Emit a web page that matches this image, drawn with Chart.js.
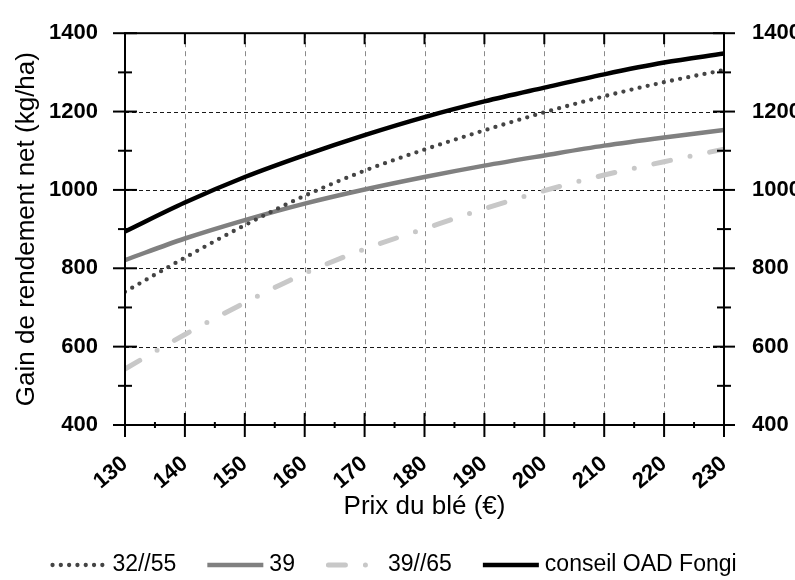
<!DOCTYPE html>
<html><head><meta charset="utf-8">
<script src="https://cdn.jsdelivr.net/npm/chart.js@4/dist/chart.umd.min.js"></script>
<style>html,body{margin:0;padding:0;background:#fff}</style>
</head><body>
<canvas id="c" width="795" height="580"></canvas>
<script>
const prices = [130, 140, 150, 160, 170, 180, 190, 200, 210, 220, 230];
const s3255 = [740, 827, 910, 985, 1049, 1103, 1152, 1198, 1239, 1275, 1306];
const s39   = [821, 876, 923, 965, 1001, 1033, 1062, 1088, 1113, 1134, 1153];
const s3965 = [543, 631, 712, 787, 849, 901, 952, 998, 1038, 1072, 1104];
const oad   = [894, 968, 1033, 1089, 1140, 1186, 1226, 1261, 1295, 1325, 1348];
const seriesNames = ['32//55', '39', '39//65', 'conseil OAD Fongi'];
const yMin = 400, yMax = 1400, yStep = 200;
const xMin = 130, xMax = 230, xStep = 10;

const FONT = "'Liberation Sans', Arial, Helvetica, sans-serif";
Chart.defaults.font.family = FONT;
Chart.defaults.color = '#000';

const styles = [
  {borderColor: '#444444', borderWidth: 4.3, borderDash: [0, 8.3], borderCapStyle: 'round'},
  {borderColor: '#808080', borderWidth: 4.5, borderDash: [], borderCapStyle: 'butt'},
  {borderColor: '#c8c8c8', borderWidth: 5, borderDash: [17, 20, 0, 20], borderCapStyle: 'round'},
  {borderColor: '#000000', borderWidth: 4.5, borderDash: [], borderCapStyle: 'butt'}
];
const values = [s3255, s39, s3965, oad];

const datasets = values.map((vals, i) => Object.assign({
  label: seriesNames[i],
  data: prices.map((p, j) => ({x: p, y: vals[j]})),
  pointRadius: 0,
  fill: false,
  cubicInterpolationMode: 'monotone',
  borderJoinStyle: 'round'
}, styles[i]));

function seg(ctx, x1, y1, x2, y2) { ctx.beginPath(); ctx.moveTo(x1, y1); ctx.lineTo(x2, y2); ctx.stroke(); }

const framePlugin = {
  id: 'frame',
  beforeDatasetsDraw(chart) {
    const {ctx, chartArea: a, scales} = chart;
    const x = scales.x, y = scales.y;
    ctx.save();
    ctx.lineWidth = 1;
    ctx.strokeStyle = '#8a8a8a';
    ctx.setLineDash([5, 4]);
    x.ticks.forEach(t => {
      if (t.value <= xMin || t.value >= xMax) return;
      const px = Math.round(x.getPixelForValue(t.value)) + 0.5;
      seg(ctx, px, a.top, px, a.bottom);
    });
    ctx.strokeStyle = '#1a1a1a';
    ctx.setLineDash([4, 3]);
    y.ticks.forEach(t => {
      if (t.value <= yMin || t.value >= yMax) return;
      const py = Math.round(y.getPixelForValue(t.value)) + 0.5;
      seg(ctx, a.left, py, a.right, py);
    });
    ctx.restore();
  },
  afterDatasetsDraw(chart) {
    const {ctx, chartArea: a, scales} = chart;
    const x = scales.x, y = scales.y;
    ctx.save();
    ctx.setLineDash([]);
    ctx.strokeStyle = '#000';
    ctx.lineWidth = 2;
    ctx.lineCap = 'butt';
    ctx.strokeRect(a.left, a.top, a.right - a.left, a.bottom - a.top);
    x.ticks.forEach(t => {
      const px = x.getPixelForValue(t.value);
      seg(ctx, px, a.bottom - 12, px, a.bottom + 12);
      seg(ctx, px, a.top, px, a.top + 11);
      if (t.value < xMax) {
        const pm = x.getPixelForValue(t.value + xStep / 2);
        seg(ctx, pm, a.bottom - 3, pm, a.bottom + 3);
      }
    });
    y.ticks.forEach(t => {
      const py = y.getPixelForValue(t.value);
      seg(ctx, a.left - 12, py, a.left + 12, py);
      seg(ctx, a.right - 11, py, a.right + 11, py);
      if (t.value < yMax) {
        const pm = y.getPixelForValue(t.value + yStep / 2);
        seg(ctx, a.left - 7, pm, a.left + 7, pm);
        seg(ctx, a.right - 7, pm, a.right + 7, pm);
      }
    });
    ctx.restore();
  },
  afterDraw(chart) {
    const ctx = chart.ctx;
    ctx.save();
    ctx.font = '23px ' + FONT;
    ctx.textBaseline = 'middle';
    ctx.textAlign = 'left';
    const sample = 56, gap = 6, spacing = 31;
    const widths = seriesNames.map(n => ctx.measureText(n).width);
    let total = 0;
    widths.forEach((w, i) => { total += sample + gap + w + (i < widths.length - 1 ? spacing : 0); });
    let cx = (chart.width - total) / 2 - 4;
    const ly = 565;
    chart.data.datasets.forEach((ds, i) => {
      ctx.strokeStyle = ds.borderColor;
      ctx.lineWidth = ds.borderWidth;
      ctx.lineCap = ds.borderCapStyle;
      ctx.setLineDash(ds.borderDash);
      const cap = ds.borderCapStyle === 'round' ? ds.borderWidth / 2 : 0;
      seg(ctx, cx + cap, ly, cx + sample - cap, ly);
      ctx.setLineDash([]);
      ctx.fillStyle = '#000';
      ctx.fillText(ds.label, cx + sample + gap, ly);
      cx += sample + gap + widths[i] + spacing;
    });
    ctx.restore();
  }
};

const plainTick = v => String(v);

new Chart(document.getElementById('c'), {
  type: 'line',
  data: {datasets},
  plugins: [framePlugin],
  options: {
    responsive: false,
    animation: false,
    devicePixelRatio: 1,
    layout: {padding: {top: 28, left: 0, right: 0, bottom: 0}},
    plugins: {legend: {display: false}, tooltip: {enabled: false}},
    scales: {
      x: {
        type: 'linear', position: 'bottom', min: xMin, max: xMax,
        grid: {display: false}, border: {display: false},
        ticks: {stepSize: xStep, maxRotation: 40, minRotation: 40, padding: 18,
                font: {size: 22, weight: 'bold'}, color: '#000', callback: plainTick},
        title: {display: true, text: 'Prix du blé (€)', font: {size: 26}, color: '#000',
                padding: {top: 0, bottom: 58}},
        afterFit(s) { s.height = 155; }
      },
      y: {
        type: 'linear', position: 'left', min: yMin, max: yMax,
        grid: {display: false}, border: {display: false},
        ticks: {stepSize: yStep, padding: 19, font: {size: 22, weight: 'bold'}, color: '#000', callback: plainTick},
        title: {display: true, text: 'Gain de rendement net (kg/ha)', font: {size: 26}, color: '#000',
                padding: {top: 11, bottom: 0}},
        afterFit(s) { s.width = 125; }
      },
      y2: {
        type: 'linear', position: 'right', min: yMin, max: yMax,
        grid: {display: false}, border: {display: false},
        ticks: {stepSize: yStep, padding: 20, font: {size: 22, weight: 'bold'}, color: '#000', callback: plainTick},
        afterFit(s) { s.width = 71; }
      }
    }
  }
});
</script>
</body></html>
